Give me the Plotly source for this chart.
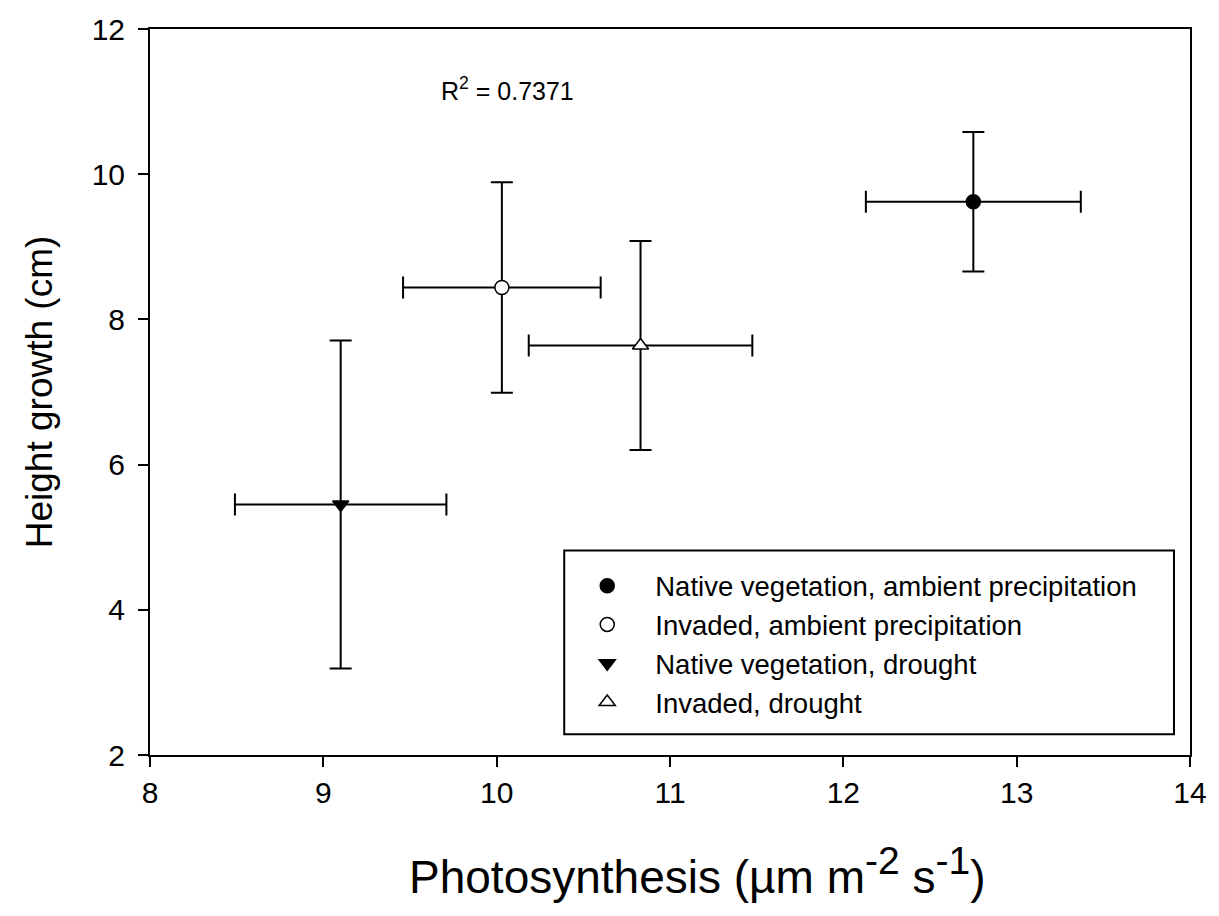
import plotly.graph_objects as go

# Data
groups = [
    "Native vegetation, ambient precipitation",
    "Invaded, ambient precipitation",
    "Native vegetation, drought",
    "Invaded, drought",
]
photosynthesis = [12.75, 10.03, 9.10, 10.83]
photosynthesis_err = [0.62, 0.57, 0.61, 0.645]
height_growth = [9.62, 8.44, 5.45, 7.64]
height_growth_err = [0.96, 1.45, 2.26, 1.44]

symbols = ["circle", "circle", "triangle-down", "triangle-up"]
fills = ["black", "white", "black", "white"]

fig = go.Figure()
for i, name in enumerate(groups):
    fig.add_trace(go.Scatter(
        x=[photosynthesis[i]], y=[height_growth[i]],
        mode="markers", name=name,
        marker=dict(symbol=symbols[i], size=14,
                    color=fills[i], line=dict(color="black", width=1.5)),
        error_x=dict(type="data", array=[photosynthesis_err[i]], color="black",
                     thickness=2, width=11),
        error_y=dict(type="data", array=[height_growth_err[i]], color="black",
                     thickness=2, width=11),
    ))

fig.add_annotation(
    x=10.06, y=11.17, xref="x", yref="y", showarrow=False,
    text="R<sup>2</sup> = 0.7371",
    font=dict(family="Liberation Sans, Arial", size=25, color="black"),
)

# x-axis title
fig.add_annotation(
    x=0.526, y=-0.160, xref="paper", yref="paper", showarrow=False,
    xanchor="center", yanchor="middle",
    text=("Photosynthesis (µm m<sup><span style='font-size:39px'>-2</span></sup>"
          " s<sup><span style='font-size:39px'>-1</span></sup>)"),
    font=dict(family="Liberation Sans, Arial", size=46, color="black"),
)

# legend frame
fig.add_shape(type="rect", xref="paper", yref="paper",
              x0=0.3983, x1=0.9846, y0=0.0287, y1=0.2818,
              line=dict(color="black", width=2), fillcolor="rgba(0,0,0,0)")

fig.update_layout(
    width=1219, height=916,
    margin=dict(l=150, r=27, t=24, b=161),
    paper_bgcolor="white", plot_bgcolor="white",
    font=dict(family="Liberation Sans, Arial", color="black"),
    showlegend=True,
    legend=dict(
        x=0.3935, y=0.2668, xanchor="left", yanchor="top",
        borderwidth=0, bgcolor="rgba(0,0,0,0)",
        font=dict(size=27.5, family="Liberation Sans, Arial", color="black"),
        itemwidth=86, tracegroupgap=0,
    ),
    xaxis=dict(
        range=[8, 14], tickmode="array", tickvals=[8, 9, 10, 11, 12, 13, 14],
        showgrid=False, zeroline=False,
        showline=True, linecolor="black", linewidth=2, mirror=True,
        ticks="outside", ticklen=10, tickwidth=2, tickcolor="black",
        tickfont=dict(size=30),
    ),
    yaxis=dict(
        range=[2, 12], tickmode="array", tickvals=[2, 4, 6, 8, 10, 12],
        showgrid=False, zeroline=False,
        showline=True, linecolor="black", linewidth=2, mirror=True,
        ticks="outside", ticklen=10, tickwidth=2, tickcolor="black",
        tickfont=dict(size=30), ticklabelstandoff=7,
        title=dict(text="Height growth (cm)", font=dict(size=37), standoff=28),
    ),
)

fig.write_html("out.html")
